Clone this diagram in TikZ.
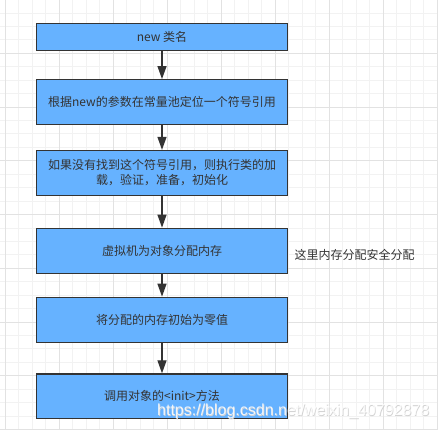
\documentclass[tikz,border=0pt]{standalone}
\usepackage{fontspec}
\setmainfont{Noto Sans CJK SC}
\newfontfamily\wmfont{Liberation Sans}
\usetikzlibrary{arrows.meta}
\definecolor{boxfill}{HTML}{66B2FF}
\definecolor{boxline}{HTML}{333333}
\definecolor{gridminor}{HTML}{F2F2F2}
\definecolor{gridmajor}{HTML}{E2E2E2}
\tikzset{
  flowbox/.style={draw=boxline, fill=boxfill, line width=1.3pt, minimum width=250.7pt,
    inner sep=0pt, text=boxline, font=\fontsize{12pt}{15pt}\selectfont, align=center},
  flowarrow/.style={draw=boxline, line width=1.3pt, -{Triangle[length=13pt,width=9pt]}},
  sidenote/.style={text=boxline, font=\fontsize{12pt}{15pt}\selectfont, inner sep=0pt, anchor=west},
}
\begin{document}
\begin{tikzpicture}[x=1pt,y=-1pt]
\useasboundingbox (0,0) rectangle (438,430);
\fill[white] (0,0) rectangle (438,430);
% grid
\foreach \i in {0,...,33} {
  \pgfmathsetmacro{\gx}{5.3+13.5*\i}
  \draw[gridminor, line width=0.8pt] (\gx,0) -- (\gx,430);
}
\foreach \i in {0,...,32} {
  \pgfmathsetmacro{\gy}{-0.4+13.43*\i}
  \draw[gridminor, line width=0.8pt] (0,\gy) -- (438,\gy);
}
\foreach \i in {0,...,8} {
  \pgfmathsetmacro{\gx}{5.3+54*\i}
  \draw[gridmajor, line width=0.8pt] (\gx,0) -- (\gx,430);
}
\foreach \i in {0,...,8} {
  \pgfmathsetmacro{\gy}{-0.4+53.72*\i}
  \draw[gridmajor, line width=0.8pt] (0,\gy) -- (438,\gy);
}
% boxes
\node[flowbox, minimum height=27pt] (b1) at (162,36.9) {new 类名};
\node[flowbox, minimum height=45pt] (b2) at (162,102.2) {根据new的参数在常量池定位一个符号引用};
\node[flowbox, minimum height=45pt] (b3) at (162,173) {如果没有找到这个符号引用，则执行类的加\\载，验证，准备，初始化};
\node[flowbox, minimum height=45pt] (b4) at (162,250.8) {虚拟机为对象分配内存};
\node[flowbox, minimum height=45pt] (b5) at (162,319.8) {将分配的内存初始为零值};
\node[flowbox, minimum height=44.5pt] (b6) at (162,396.2) {调用对象的<init>方法};
% arrows
\draw[flowarrow] (b1) -- (b2);
\draw[flowarrow] (b2) -- (b3);
\draw[flowarrow] (b3) -- (b4);
\draw[flowarrow] (b4) -- (b5);
\draw[flowarrow] (b5) -- (b6);
% side note
\node[sidenote] (note) at (294.5,255) {这里内存分配安全分配};
% watermark
\node[text=gray!35, font=\wmfont\fontsize{16pt}{16pt}\selectfont, inner sep=0pt, anchor=west] (wms) at (157.6,412.2) {https://blog.csdn.net/weixin\_40792878};
\node[text=white, opacity=0.85, font=\wmfont\fontsize{16pt}{16pt}\selectfont, inner sep=0pt, anchor=west] (wm) at (157,411.7) {https://blog.csdn.net/weixin\_40792878};
\end{tikzpicture}
\end{document}
